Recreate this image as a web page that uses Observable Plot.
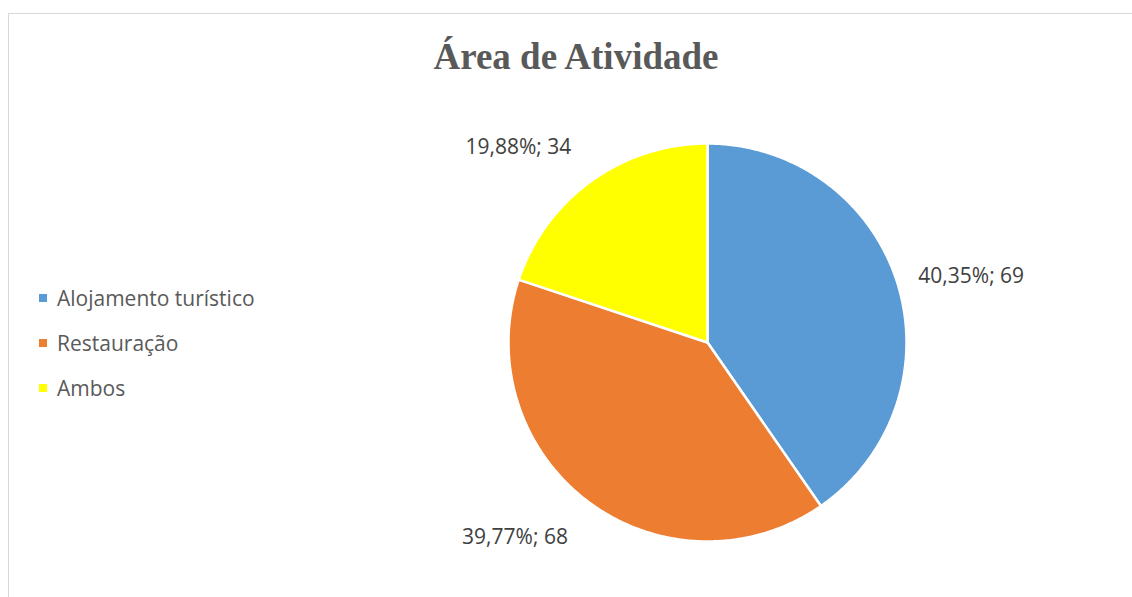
<!DOCTYPE html>
<html>
<head>
<meta charset="utf-8">
<script src="https://cdn.jsdelivr.net/npm/d3@7"></script>
<script src="https://cdn.jsdelivr.net/npm/@observablehq/plot@0.6"></script>
<style>
  html, body { margin: 0; padding: 0; background: #fff; }
  #wrap { position: relative; width: 1132px; height: 597px; overflow: hidden; }
  #frame { position: absolute; left: 8px; top: 13px; width: 1200px; height: 700px; border: 1.5px solid #d9d9d9; box-sizing: border-box; }
  #title { position: absolute; left: 0; width: 1152px; top: 35px; text-align: center; font-family: "Liberation Serif", serif; font-weight: bold; font-size: 37px; color: #595959; }
  #legend { position: absolute; left: 39px; top: 284px; font-family: "Open Sans", sans-serif; font-size: 21px; color: #595959; }
  #legend .row { display: flex; align-items: center; height: 28px; margin-bottom: 17px; }
  #legend .sw { width: 8px; height: 8px; margin-right: 10px; }
  #chart { position: absolute; left: 0; top: 0; }
</style>
</head>
<body>
<div id="wrap">
  <div id="frame"></div>
  <div id="chart"></div>
  <div id="title">Área de Atividade</div>
  <div id="legend"></div>
</div>
<script>
const categories = ["Alojamento turístico", "Restauração", "Ambos"];
const counts = [69, 68, 34];
const percentLabels = ["40,35%", "39,77%", "19,88%"];
const colors = ["#5B9BD5", "#ED7D31", "#FFFF00"];

const pie = d3.pie().sort(null).value(d => d.count)(
  categories.map((c, i) => ({cat: c, count: counts[i], pct: percentLabels[i]}))
);

// Polygon points for each slice (angles clockwise from 12 o'clock)
const points = [];
for (const s of pie) {
  const n = Math.max(2, Math.ceil((s.endAngle - s.startAngle) / 0.01));
  points.push({cat: s.data.cat, x: 0, y: 0});
  for (let k = 0; k <= n; k++) {
    const a = s.startAngle + (s.endAngle - s.startAngle) * k / n;
    points.push({cat: s.data.cat, x: Math.sin(a), y: Math.cos(a)});
  }
  points.push({cat: s.data.cat, x: 0, y: 0});
}

const labels = pie.map(s => {
  const m = (s.startAngle + s.endAngle) / 2;
  const sx = Math.sin(m), cy = Math.cos(m);
  const side = Math.abs(cy) < 0.5;
  const r = side ? 1.11 : 1.17;
  return {
    text: `${s.data.pct}; ${s.data.count}`,
    x: sx * r, y: cy * r,
    anchor: sx >= 0 ? "start" : "end",
    line: side ? "middle" : (cy > 0 ? "bottom" : "top")
  };
});

const textMarks = ["start", "end"].flatMap(ta => ["middle", "top", "bottom"].map(la =>
  Plot.text(labels.filter(d => d.anchor === ta && d.line === la), {
    x: "x", y: "y", text: "text", textAnchor: ta, lineAnchor: la,
    fontSize: 21, fill: "#404040", fontFamily: "Open Sans, sans-serif"
  })
));

const plot = Plot.plot({
  width: 1132, height: 597,
  marginLeft: 508, marginRight: 226, marginTop: 143, marginBottom: 56,
  x: {domain: [-1, 1], axis: null},
  y: {domain: [-1, 1], axis: null},
  color: {domain: categories, range: colors},
  style: {background: "transparent"},
  marks: [
    Plot.line(points, {x: "x", y: "y", z: "cat", fill: "cat", stroke: "white", strokeWidth: 2.5, strokeLinejoin: "round"}),
    ...textMarks
  ]
});
document.getElementById("chart").appendChild(plot);

const legend = document.getElementById("legend");
categories.forEach((c, i) => {
  const row = document.createElement("div");
  row.className = "row";
  const sw = document.createElement("div");
  sw.className = "sw";
  sw.style.background = colors[i];
  const t = document.createElement("span");
  t.textContent = c;
  row.appendChild(sw); row.appendChild(t);
  legend.appendChild(row);
});
</script>
</body>
</html>
